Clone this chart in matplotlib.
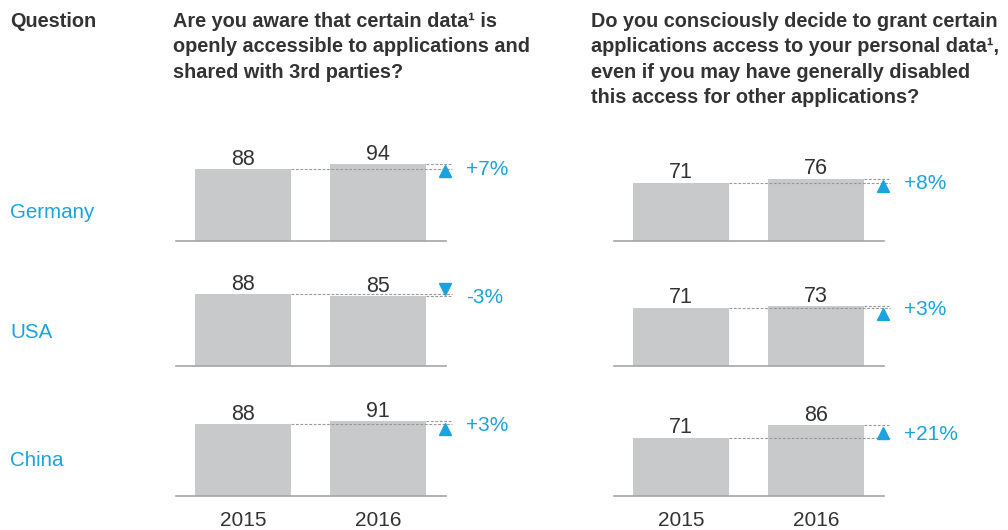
import matplotlib
matplotlib.use("Agg")
import matplotlib.pyplot as plt

plt.rcParams['font.family'] = ['Liberation Sans', 'DejaVu Sans']

countries = ["Germany", "USA", "China"]
years = ["2015", "2016"]

q1_2015 = [88, 88, 88]
q1_2016 = [94, 85, 91]
q1_change = ["+7%", "-3%", "+3%"]

q2_2015 = [71, 71, 71]
q2_2016 = [76, 73, 86]
q2_change = ["+8%", "+3%", "+21%"]

q1_title = "Are you aware that certain data\u00b9 is\nopenly accessible to applications and\nshared with 3rd parties?"
q2_title = ("Do you consciously decide to grant certain\n"
            "applications access to your personal data\u00b9,\n"
            "even if you may have generally disabled\n"
            "this access for other applications?")

BLUE = "#1aa3de"
BAR = "#c8c9cb"
LINE = "#a6a6a6"
DARK = "#333333"

W, H = 1008, 530
fig = plt.figure(figsize=(W / 100, H / 100), dpi=100)

# header texts
fs_title = 14.3
fig.text(10 / W, 1 - 12 / H, "Question", fontsize=fs_title, fontweight="bold",
         color=DARK, va="top", ha="left")
fig.text(173 / W, 1 - 12 / H, q1_title, fontsize=fs_title, fontweight="bold",
         color=DARK, va="top", ha="left", linespacing=1.42)
fig.text(591 / W, 1 - 12 / H, q2_title, fontsize=fs_title, fontweight="bold",
         color=DARK, va="top", ha="left", linespacing=1.42)

baselines = [241, 366, 496]
country_y = [213, 332, 461]
ax_h = 105
scale = 0.82  # px per unit
bw = 0.71
fs = 15.5


def draw_panel(ax, v15, v16, change, last):
    ax.bar([0, 1], [v15, v16], width=bw, color=BAR, zorder=1)
    ax.set_xlim(-0.496, 1.504)
    ax.set_ylim(0, ax_h / scale)
    for s in ["top", "right", "left"]:
        ax.spines[s].set_visible(False)
    ax.spines["bottom"].set_color(LINE)
    ax.spines["bottom"].set_linewidth(1.2)
    ax.set_yticks([])
    if last:
        ax.set_xticks([0, 1])
        ax.set_xticklabels(years, fontsize=15, color=DARK)
        ax.tick_params(axis="x", length=0, pad=10.5)
    else:
        ax.set_xticks([])
    for x, v in zip([0, 1], [v15, v16]):
        ax.annotate(str(v), (x, v), xytext=(0, -0.5), textcoords="offset points",
                    ha="center", va="bottom", fontsize=fs, color=DARK)
    # dashed guide lines
    ax.plot([bw / 2, 1.55], [v15, v15], ls=(0, (2.5, 1.5)), lw=0.8,
            color="#999999", clip_on=False, zorder=2)
    ax.plot([1 + bw / 2, 1.55], [v16, v16], ls=(0, (2.5, 1.5)), lw=0.8,
            color="#999999", clip_on=False, zorder=2)
    top = max(v15, v16)
    if v16 >= v15:
        ax.plot(1.5, top - 9, marker="^", ms=9, color=BLUE, clip_on=False,
                zorder=3)
    else:
        ax.plot(1.5, top + 6, marker="v", ms=9, color=BLUE, clip_on=False,
                zorder=3)
    ax.annotate(change, (1.65, (v15 + v16) / 2), xytext=(0, -2),
                textcoords="offset points", fontsize=15, color=BLUE,
                ha="left", va="center", annotation_clip=False)


for i, c in enumerate(countries):
    b = baselines[i]
    ax1 = fig.add_axes([176 / W, 1 - b / H, 270 / W, ax_h / H])
    draw_panel(ax1, q1_2015[i], q1_2016[i], q1_change[i], i == 2)
    ax2 = fig.add_axes([614 / W, 1 - b / H, 270 / W, ax_h / H])
    draw_panel(ax2, q2_2015[i], q2_2016[i], q2_change[i], i == 2)
    fig.text(10 / W, 1 - country_y[i] / H, c, fontsize=14.8, color=BLUE,
             ha="left", va="center")

fig.savefig("out.png", dpi=100)
